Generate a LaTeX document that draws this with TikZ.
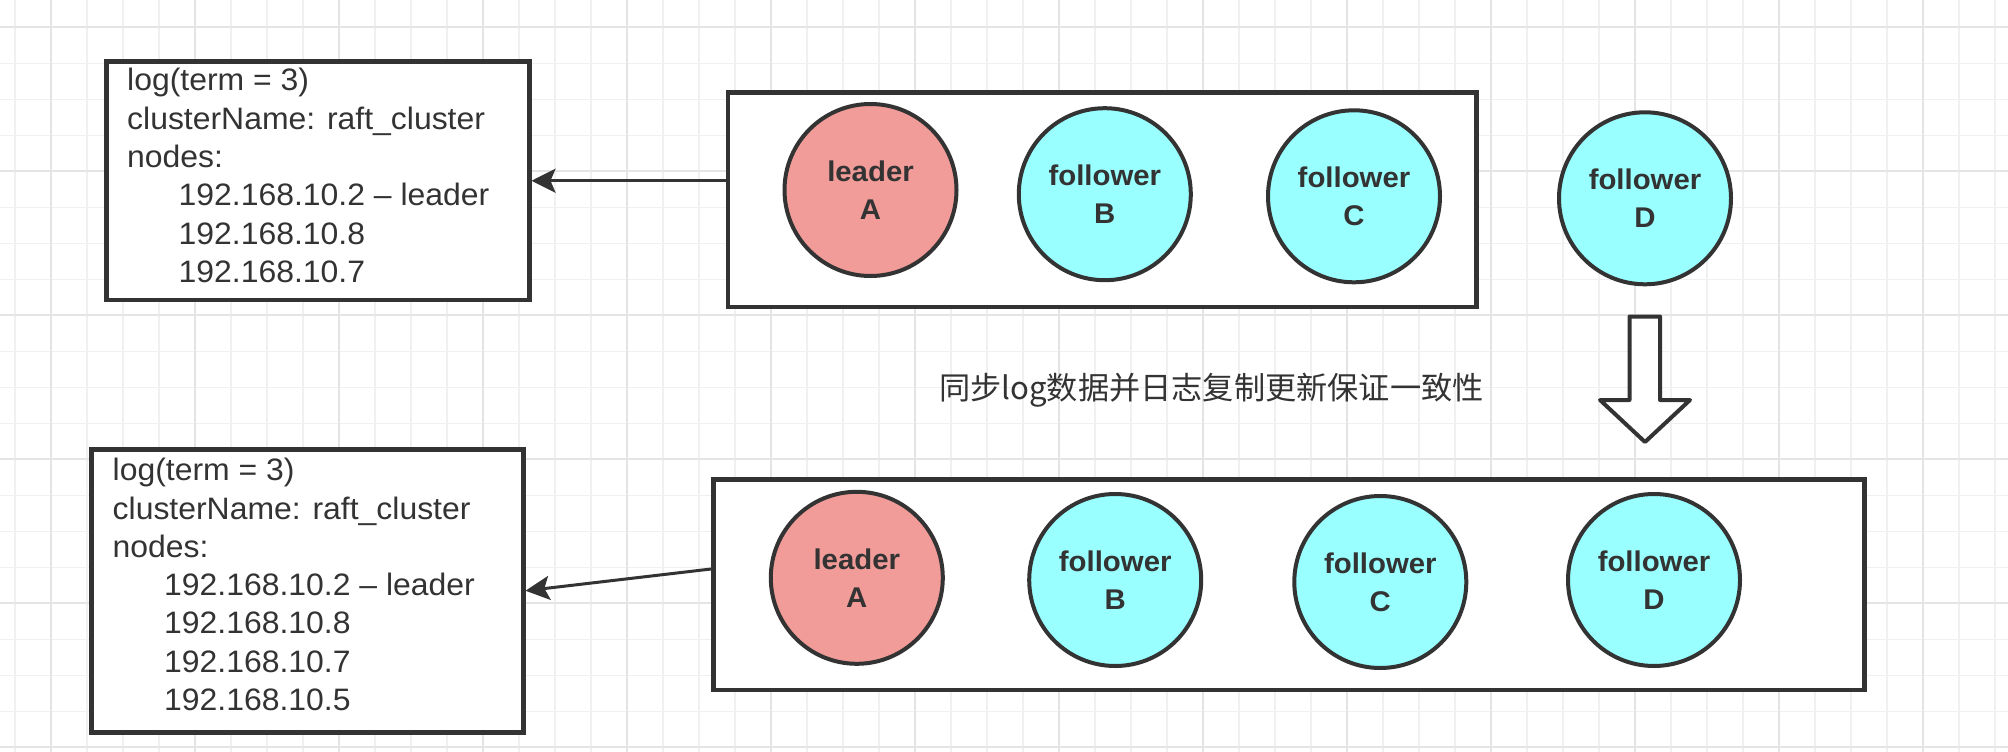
\documentclass[tikz,border=0pt]{standalone}
\usepackage{fontspec}
\setmainfont{Liberation Sans}
\newfontfamily\boxfont[FakeStretch=1.03]{Liberation Sans}
\newfontfamily\circfont[FakeStretch=1.03]{Liberation Sans}
\newfontfamily\cjkfont{Noto Sans CJK SC}
\usetikzlibrary{arrows.meta}
\definecolor{ink}{HTML}{333333}
\definecolor{pinkfill}{HTML}{F19C99}
\definecolor{cyanfill}{HTML}{99FFFF}
\definecolor{gridminor}{HTML}{F0F0F0}
\definecolor{gridmajor}{HTML}{E4E4E4}
\newcommand{\ipline}[1]{\hbox{\hspace*{51.5pt}#1}}
\begin{document}
\begin{tikzpicture}[x=1pt,y=-1pt,
  frame/.style={draw=ink,line width=4.5pt,fill=white,rectangle,inner sep=0pt,anchor=north west},
  srv/.style={circle,draw=ink,line width=4pt,minimum size=172pt,inner sep=0pt,align=center,text=ink,
    font=\circfont\bfseries\fontsize{28.5}{38}\selectfont},
  leadernode/.style={srv,fill=pinkfill},
  follownode/.style={srv,fill=cyanfill},
  boxtext/.style={anchor=base west,inner sep=0pt,text=ink,font=\boxfont\fontsize{31}{38.3}\selectfont},
  conn/.style={draw=ink,line width=3pt,-{Stealth[length=24pt,width=24pt,inset=5pt]}},
  hollow/.style={draw=ink,line width=4pt,fill=white,line join=round}
]
\useasboundingbox (0,0) rectangle (2008,752);
\fill[white] (0,0) rectangle (2008,752);
% grid
\foreach \i in {0,...,55} \draw[gridminor,line width=1.5pt] ({15+36*\i},0) -- ({15+36*\i},752);
\foreach \j in {0,...,20} \draw[gridminor,line width=1.5pt] (0,{27.3+36*\j}) -- (2008,{27.3+36*\j});
\foreach \i in {0,...,13} \draw[gridmajor,line width=2pt] ({51+144*\i},0) -- ({51+144*\i},752);
\foreach \j in {0,...,5} \draw[gridmajor,line width=2pt] (0,{27.3+144*\j}) -- (2008,{27.3+144*\j});

% top row
\node[frame,minimum width=423pt,minimum height=238pt] (L1) at (104,59.5) {};
\node[boxtext] (T1) at (127,91) {\vtop{\hbox{log(term = 3)}\hbox{clusterName: raft\_cluster}\hbox{nodes:}%
  \ipline{192.168.10.2 \textendash{} leader}\ipline{192.168.10.8}\ipline{192.168.10.7}}};
\node[frame,minimum width=748.5pt,minimum height=214.5pt] (R1) at (725.5,90) {};
\node[leadernode] (A1) at (870.5,190) {leader\\A};
\node[follownode] (B1) at (1104.8,194.2) {follower\\B};
\node[follownode] (C1) at (1354,196.3) {follower\\C};
\node[follownode] (D1) at (1645,198.3) {follower\\D};
\draw[conn] (R1.west |- L1.east) -- (L1.east);

% caption and hollow arrow
\node[anchor=west,inner sep=0pt,text=ink,font=\cjkfont\fontsize{31.2}{37}\selectfont] (cap) at (939,390) {同步log数据并日志复制更新保证一致性};
\draw[hollow] (1629.5,316.5) -- (1660,316.5) -- (1660,400) -- (1690,400) -- (1645,442) -- (1600,400) -- (1629.5,400) -- cycle;

% bottom row
\node[frame,minimum width=432pt,minimum height=283pt] (L2) at (89,447) {};
\node[boxtext] (T2) at (112.5,480.7) {\vtop{\hbox{log(term = 3)}\hbox{clusterName: raft\_cluster}\hbox{nodes:}%
  \ipline{192.168.10.2 \textendash{} leader}\ipline{192.168.10.8}\ipline{192.168.10.7}\ipline{192.168.10.5}}};
\node[frame,minimum width=1151pt,minimum height=210.5pt] (R2) at (711,477) {};
\node[leadernode] (A2) at (856.8,577.8) {leader\\A};
\node[follownode] (B2) at (1115.2,580) {follower\\B};
\node[follownode] (C2) at (1380.3,582) {follower\\C};
\node[follownode] (D2) at (1654,580) {follower\\D};
\coordinate (s2) at (711,569);
\draw[conn] (s2) -- (L2.east);
\end{tikzpicture}
\end{document}
